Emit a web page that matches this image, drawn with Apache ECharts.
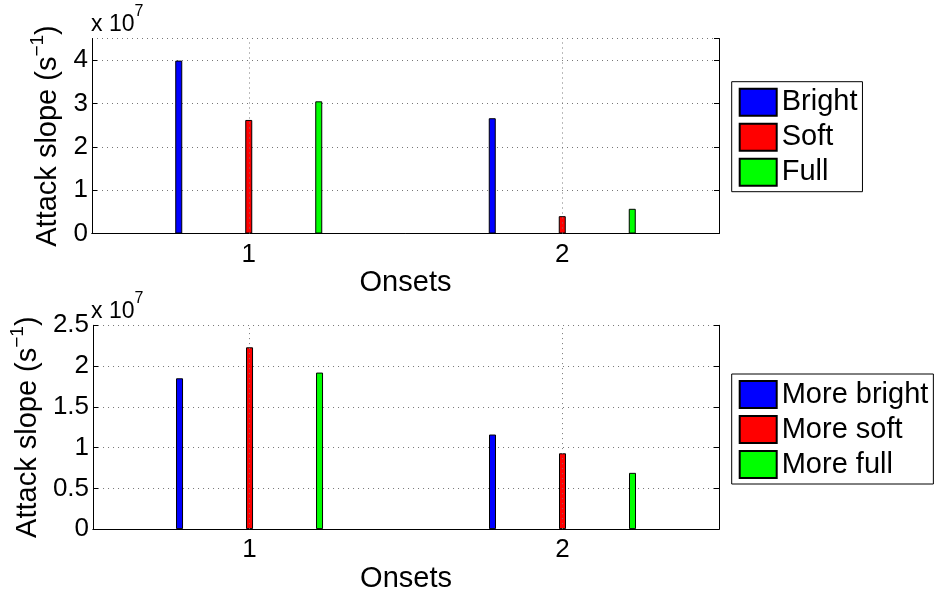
<!DOCTYPE html>
<html><head><meta charset="utf-8">
<script src="https://cdn.jsdelivr.net/npm/echarts@6/dist/echarts.min.js"></script>
<style>html,body{margin:0;padding:0;background:#fff}#c{width:936px;height:594px}</style>
</head><body><div id="c"></div>
<script>
// ---- data (values in units of 10^7 s^-1) ----
const categories = ['1', '2'];
const topNames = ['Bright', 'Soft', 'Full'];
const botNames = ['More bright', 'More soft', 'More full'];
const topBright = [3.99, 2.66];
const topSoft = [2.62, 0.40];
const topFull = [3.05, 0.57];
const botBright = [1.85, 1.16];
const botSoft = [2.23, 0.93];
const botFull = [1.92, 0.69];
const topYMin = 0, topYMax = 4.5, topYInterval = 1;
const botYMin = 0, botYMax = 2.5, botYInterval = 0.5;
const xLabel = 'Onsets';
const exponentBase = 'x 10', exponentPow = '7';

const colors = ['#0000ff', '#ff0000', '#00ff00'];
const FONT = '"Liberation Sans", Arial, Helvetica, sans-serif';

const chart = echarts.init(document.getElementById('c'), null, {renderer: 'canvas'});

const grids = [
  {left: 92, top: 38.5, width: 627, height: 195},
  {left: 92, top: 325.3, width: 627, height: 206.4}
];

function xAxes(gi, nameGap) {
  return [{
    type: 'category', gridIndex: gi, data: categories, position: 'bottom',
    boundaryGap: true,
    axisLine: {lineStyle: {color: '#000', width: 1}},
    axisTick: {inside: true, alignWithLabel: true, length: 5, lineStyle: {color: '#000'}},
    axisLabel: {color: '#000', fontSize: 26, fontFamily: FONT, margin: 8},
    splitLine: {show: false},
    name: xLabel, nameLocation: 'middle', nameGap: nameGap,
    nameTextStyle: {color: '#000', fontSize: 29, fontFamily: FONT, verticalAlign: 'top'}
  }, {
    type: 'category', gridIndex: gi, data: categories, position: 'top',
    boundaryGap: true,
    axisLine: {lineStyle: {color: '#000', width: 1}},
    axisTick: {inside: true, alignWithLabel: true, length: 5, lineStyle: {color: '#000'}},
    axisLabel: {show: false}, splitLine: {show: false}
  }];
}
function yAxes(gi, min, max, interval, nameGap, showMax) {
  return [{
    type: 'value', gridIndex: gi, min: min, max: max, interval: interval, position: 'left',
    axisLine: {show: true, lineStyle: {color: '#000', width: 1}},
    axisTick: {show: true, inside: true, length: 5, lineStyle: {color: '#000'}},
    axisLabel: {color: '#000', fontSize: 26, fontFamily: FONT, margin: 4, showMaxLabel: showMax},
    splitLine: {show: true, lineStyle: {color: '#777', type: [1, 4], width: 1}},
    name: '{a|Attack slope (s}{b|−1}{a|)}', nameLocation: 'middle', nameGap: nameGap,
    nameTextStyle: {
      rich: {
        a: {fontSize: 29, fontFamily: FONT, color: '#000', lineHeight: 34, verticalAlign: 'bottom'},
        b: {fontSize: 19, fontFamily: FONT, color: '#000', lineHeight: 34, verticalAlign: 'top', padding: [0, 0, 12, 0]}
      }
    }
  }, {
    type: 'value', gridIndex: gi, min: min, max: max, interval: interval, position: 'right',
    axisLine: {show: true, lineStyle: {color: '#000', width: 1}},
    axisTick: {show: true, inside: true, length: 5, lineStyle: {color: '#000'}},
    axisLabel: {show: false}, splitLine: {show: false}
  }];
}

function barSeries(name, data, ci, xi, yi) {
  return {
    type: 'bar', name: name, data: data, xAxisIndex: xi, yAxisIndex: yi,
    barWidth: 7, barGap: '900%',
    itemStyle: {color: colors[ci], borderColor: '#000', borderWidth: 1},
    emphasis: {disabled: true}, z: 3
  };
}
function vGrid(xi, yi) {
  return {
    type: 'line', data: [], xAxisIndex: xi, yAxisIndex: yi, z: 1, silent: true,
    markLine: {
      silent: true, symbol: ['none', 'none'], label: {show: false},
      lineStyle: {color: '#777', type: [1, 4], width: 1},
      data: categories.map(c => ({xAxis: c}))
    }
  };
}

const legendCommon = {
  orient: 'vertical', left: 731.7, itemWidth: 37, itemHeight: 27, itemGap: 6,
  borderColor: '#000', borderWidth: 1, padding: [6, 5, 5, 7],
  backgroundColor: '#fff', icon: 'rect', selectedMode: false,
  textStyle: {color: '#000', fontSize: 29, fontFamily: FONT, lineHeight: 27}
};

const expRich = {
  a: {fontSize: 23, fontFamily: FONT, fill: '#000', lineHeight: 32, verticalAlign: 'bottom'},
  b: {fontSize: 16, fontFamily: FONT, fill: '#000', lineHeight: 32, verticalAlign: 'top', padding: [0, 0, 13, 0]}
};

const option = {
  animation: false,
  backgroundColor: '#fff',
  grid: grids,
  xAxis: [...xAxes(0, 30), ...xAxes(1, 32)],
  yAxis: [...yAxes(0, topYMin, topYMax, topYInterval, 27, false),
          ...yAxes(1, botYMin, botYMax, botYInterval, 49, true)],
  legend: [
    Object.assign({}, legendCommon, {top: 81.7, data: topNames}),
    Object.assign({}, legendCommon, {top: 374, data: botNames})
  ],
  series: [
    vGrid(0, 0),
    barSeries(topNames[0], topBright, 0, 0, 0),
    barSeries(topNames[1], topSoft, 1, 0, 0),
    barSeries(topNames[2], topFull, 2, 0, 0),
    vGrid(2, 2),
    barSeries(botNames[0], botBright, 0, 2, 2),
    barSeries(botNames[1], botSoft, 1, 2, 2),
    barSeries(botNames[2], botFull, 2, 2, 2)
  ],
  graphic: [
    {type: 'text', left: 91, top: 4, style: {
      text: '{a|' + exponentBase + '}{b|' + exponentPow + '}', rich: expRich
    }},
    {type: 'text', left: 91, top: 291, style: {
      text: '{a|' + exponentBase + '}{b|' + exponentPow + '}', rich: expRich
    }}
  ]
};
chart.setOption(option);
</script>
</body></html>
